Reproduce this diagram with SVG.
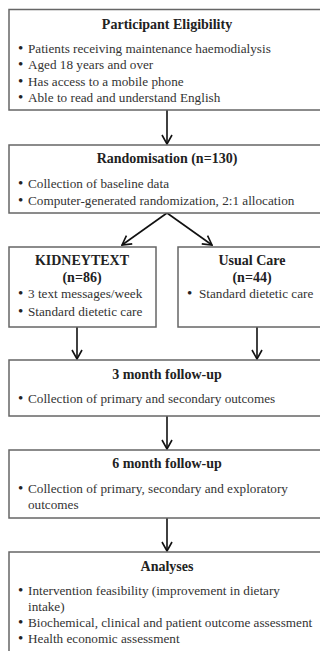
<svg xmlns="http://www.w3.org/2000/svg" width="320" height="651" viewBox="0 0 320 651">
<style>
.box{fill:#fff;stroke:#666;stroke-width:1.5}
.t{font-family:"Liberation Serif","Times New Roman",serif;font-size:14px;font-weight:bold;fill:#222;text-anchor:middle}
.b{font-family:"Liberation Serif","Times New Roman",serif;font-size:13.2px;fill:#333}
.d{font-size:15px;fill:#222}
.c{stroke:#111;stroke-width:1.6;fill:none}
</style>
<defs>
<marker id="ah" viewBox="0 0 12 12" refX="11" refY="6" markerWidth="12" markerHeight="12" markerUnits="userSpaceOnUse" orient="auto">
<path d="M2,1 L11,6 L2,11" fill="none" stroke="#111" stroke-width="1.6"/>
</marker>
</defs>
<rect width="320" height="651" fill="#fff"/>
<g id="connectors">
<line class="c" x1="167" y1="110" x2="167" y2="144" marker-end="url(#ah)"/>
<line class="c" x1="167" y1="213" x2="122" y2="245" marker-end="url(#ah)"/>
<line class="c" x1="167" y1="213" x2="212" y2="245" marker-end="url(#ah)"/>
<line class="c" x1="77" y1="327" x2="77" y2="359" marker-end="url(#ah)"/>
<line class="c" x1="257" y1="327" x2="257" y2="359" marker-end="url(#ah)"/>
<line class="c" x1="167" y1="416" x2="167" y2="449" marker-end="url(#ah)"/>
<line class="c" x1="167" y1="518" x2="167" y2="551" marker-end="url(#ah)"/>
</g>
<g id="eligibility">
<rect class="box" x="9" y="9.5" width="320" height="100.5"/>
<text class="t" x="167" y="28.5">Participant Eligibility</text>
<text class="b" x="18" y="52.5"><tspan class="d">•</tspan><tspan x="28">Patients receiving maintenance haemodialysis</tspan></text>
<text class="b" x="18" y="69"><tspan class="d">•</tspan><tspan x="28">Aged 18 years and over</tspan></text>
<text class="b" x="18" y="85.5"><tspan class="d">•</tspan><tspan x="28">Has access to a mobile phone</tspan></text>
<text class="b" x="18" y="101.5"><tspan class="d">•</tspan><tspan x="28">Able to read and understand English</tspan></text>
</g>
<g id="randomisation">
<rect class="box" x="9" y="145" width="320" height="68"/>
<text class="t" x="167" y="162.5">Randomisation (n=130)</text>
<text class="b" x="18" y="187.5"><tspan class="d">•</tspan><tspan x="28">Collection of baseline data</tspan></text>
<text class="b" x="18" y="204.5"><tspan class="d">•</tspan><tspan x="28">Computer-generated randomization, 2:1 allocation</tspan></text>
</g>
<g id="kidneytext">
<rect class="box" x="9" y="247" width="147" height="80"/>
<text class="t" x="82" y="264.5">KIDNEYTEXT</text>
<text class="t" x="82" y="281.5">(n=86)</text>
<text class="b" x="18" y="297.5"><tspan class="d">•</tspan><tspan x="28">3 text messages/week</tspan></text>
<text class="b" x="18" y="315.5"><tspan class="d">•</tspan><tspan x="28">Standard dietetic care</tspan></text>
</g>
<g id="usualcare">
<rect class="box" x="178" y="247" width="150" height="80"/>
<text class="t" x="252" y="264.5">Usual Care</text>
<text class="t" x="252" y="281.5">(n=44)</text>
<text class="b" x="187" y="297.5"><tspan class="d">•</tspan><tspan x="199">Standard dietetic care</tspan></text>
</g>
<g id="followup3">
<rect class="box" x="9" y="360" width="320" height="56"/>
<text class="t" x="167" y="378.5">3 month follow-up</text>
<text class="b" x="18" y="402.5"><tspan class="d">•</tspan><tspan x="28">Collection of primary and secondary outcomes</tspan></text>
</g>
<g id="followup6">
<rect class="box" x="9" y="450" width="320" height="68"/>
<text class="t" x="167" y="467.5">6 month follow-up</text>
<text class="b" x="18" y="492.5"><tspan class="d">•</tspan><tspan x="28">Collection of primary, secondary and exploratory</tspan></text>
<text class="b" x="28" y="508.5">outcomes</text>
</g>
<g id="analyses">
<rect class="box" x="9" y="552" width="320" height="104"/>
<text class="t" x="167" y="570.5">Analyses</text>
<text class="b" x="18" y="594.5"><tspan class="d">•</tspan><tspan x="28">Intervention feasibility (improvement in dietary</tspan></text>
<text class="b" x="28" y="610.5">intake)</text>
<text class="b" x="18" y="626.5"><tspan class="d">•</tspan><tspan x="28">Biochemical, clinical and patient outcome assessment</tspan></text>
<text class="b" x="18" y="642.5"><tspan class="d">•</tspan><tspan x="28">Health economic assessment</tspan></text>
</g>
</svg>
